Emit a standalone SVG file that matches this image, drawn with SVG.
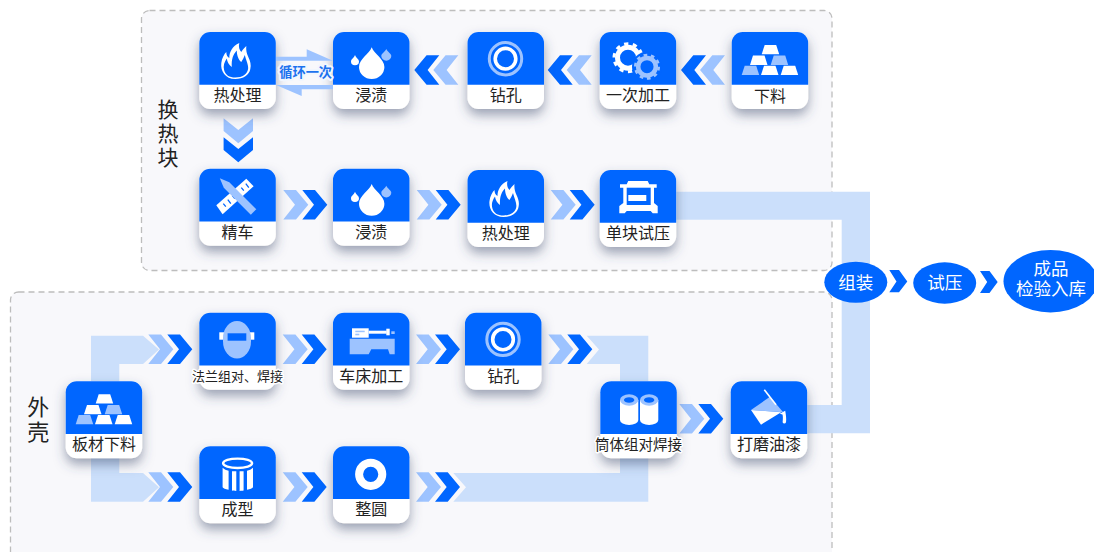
<svg xmlns="http://www.w3.org/2000/svg" width="1094" height="552" viewBox="0 0 1094 552">
<style>
text{font-family:"Noto Sans CJK SC","Noto Sans",sans-serif;text-anchor:middle}
.lb{font-size:16px;fill:#222}
.sm{font-size:13px;fill:#222;stroke:#fff;stroke-width:3px;paint-order:stroke;stroke-linejoin:round}
.md{font-size:14.5px;fill:#222;stroke:#fff;stroke-width:3px;paint-order:stroke;stroke-linejoin:round}
.side{font-size:21px;fill:#222}
.side2{font-size:22px;fill:#222}
.oval{font-size:17.5px;fill:#fff}
.loop{font-size:13.2px;font-weight:700;fill:#1c72ee;stroke:#f1f6fe;stroke-width:4px;paint-order:stroke;stroke-linejoin:round}
.panel{fill:#f8f8fb;stroke:#bdbdbd;stroke-width:1.3;stroke-dasharray:6 4}
.pipe{fill:#cbdffb}
.b{fill:#0066ff}.w{fill:#fff}.l{fill:#9dc3ff}
</style>
<defs>
<filter id="sh" x="-30%" y="-30%" width="160%" height="170%"><feDropShadow dx="0" dy="6" stdDeviation="6" flood-color="#3d4a6b" flood-opacity=".5"/></filter>
<polygon id="cv" points="0,-14.7 12.7,-14.7 25,0 12.7,14.7 0,14.7 11.7,0"/>
<g id="pair"><use href="#cv" class="l"/><use href="#cv" x="19" class="b"/></g>
<g id="card">
<rect width="76.5" height="77" rx="11" class="w" filter="url(#sh)"/>
<path class="b" d="M0,52.7V11A11,11 0 0 1 11,0H65.5A11,11 0 0 1 76.5,11V52.7Z"/>
</g>
<path id="i-flame" class="w" fill-rule="evenodd" d="M36,47C26,47 21,39 22,31C22.500,26 25,22 27,20C27,23 28,25 30,26C30,20 33,14 40,11C39,15 40,18 42,20C43,18 45,16 47,14C46.500,18 47.500,22 49,25C51,29 52,33 51,37C50,43 44,47 36,47ZM36,45.500C43,45.500 48,42 48.800,37C49.300,33 47,29 45.500,23C44.500,26 43,28 42,30C39.500,28 37.500,24 37.500,18.500C34,22 32,27 32.500,35C29.500,33 28,30 27.500,26.500C25,30 23.700,34 24.800,38C26,43 30,45.500 36,45.500Z"/>
<g id="i-drop">
<path class="w" d="M38.700,15.300C41,22 51.400,27 51.400,35A12.700,12 0 0 1 26,35C26,27 36.400,22 38.700,15.300Z"/>
<path class="w" d="M22,23C23,26 26,27 26,29.500A4,3.800 0 0 1 18,29.500C18,27 21,26 22,23Z"/>
<path class="l" d="M53.300,17C54.500,20 58.300,21.500 58.300,24A5,4.700 0 0 1 48.300,24C48.300,21.500 52,20 53.300,17Z"/>
</g>
<g id="i-hole" fill="none">
<circle cx="38" cy="26.700" r="16.200" stroke="#9dc3ff" stroke-width="3"/>
<circle cx="38" cy="26.700" r="10.300" stroke="#fff" stroke-width="3.600"/>
</g>
<g id="i-gears" fill="none">
<circle cx="28.300" cy="25.700" r="10.500" stroke="#fff" stroke-width="5"/>
<circle cx="28.300" cy="25.700" r="14" stroke="#fff" stroke-width="3" stroke-dasharray="4.300 4.500"/>
<circle cx="47.300" cy="34.700" r="15" fill="#0066ff"/>
<circle cx="47.300" cy="34.700" r="8.800" stroke="#9dc3ff" stroke-width="4.500"/>
<circle cx="47.300" cy="34.700" r="11.800" stroke="#9dc3ff" stroke-width="2.500" stroke-dasharray="3.700 3.700"/>
</g>
<polygon id="bar" points="3,0 14.500,0 17.500,9.300 0,9.300"/>
<g id="i-gold">
<use href="#bar" x="30" y="13" class="w"/><use href="#bar" x="18.300" y="23.600" class="w"/><use href="#bar" x="39" y="23.600" class="l"/>
<use href="#bar" x="10" y="33.700" class="l"/><use href="#bar" x="29.300" y="33.700" class="w"/><use href="#bar" x="49" y="33.700" class="w"/>
</g>
<g id="i-tools">
<polygon class="w" points="17,36.600 23.300,45.600 54.300,17.600 47,10"/>
<path d="M24,35l2.500,3M28.500,31l3,4M33,27l2.500,3M37.500,23l3,4M42,19l2.500,3M46.500,15l3,4" stroke="#0066ff" stroke-width="1.300" fill="none"/>
<polygon class="l" points="20.500,9.500 30,13.500 57,40.500 51.500,46 24.500,19"/>
</g>
<g id="i-press">
<polygon class="w" points="27,14.300 28.500,11 48,11 49.600,14.300 57,14.300 57,17.700 54.300,17.700 54.300,33 58,36 58,43.300 53,43.300 51,41 27,41 25,43.300 19.600,43.300 19.600,36 23.600,33 23.600,17.700 20.300,17.700 20.300,14.300"/>
<polygon class="b" points="27,17.700 51,17.700 51,35 27,35"/>
<rect class="w" x="28.600" y="25" width="18" height="6"/>
</g>
<g id="i-mask">
<rect class="w" x="20" y="19.600" width="35" height="7.400"/>
<rect class="l" x="23.700" y="8.300" width="28" height="37.400" rx="14" ry="17"/>
<rect class="b" x="28.300" y="20.600" width="18.700" height="7.400"/>
</g>
<g id="i-lathe">
<polygon class="l" points="16.700,26 61.700,26 61.700,41.600 56.700,41.600 55,36.600 38.300,36.600 35.700,41.600 16.700,41.600"/>
<rect class="w" x="19" y="15.600" width="16.700" height="9.400"/>
<rect class="l" x="22.300" y="18" width="9.400" height="1.500"/><rect class="l" x="22.300" y="21" width="4" height="1.600"/>
<rect class="w" x="35.700" y="18" width="18" height="3"/><rect class="w" x="53.300" y="16" width="3.400" height="6.600"/>
<rect class="l" x="58.300" y="18.600" width="3.400" height="2.700"/>
</g>
<g id="i-drum">
<ellipse cx="38.300" cy="17" rx="14.500" ry="4.700" fill="none" stroke="#fff" stroke-width="2.400"/>
<path class="w" d="M23.300,21.500C25,23 27,24 29.300,24.500V43.500C26,43 24,42 23.300,41ZM32.700,25H37V44.700C35,44.700 34,44.500 32.700,44.300ZM40.300,25H44.300V44.300C43,44.500 42,44.700 40.300,44.700ZM47.700,24.500C50,24 52,23 53.700,21.500V41C53,42 51,43 47.700,43.500Z"/>
</g>
<circle id="i-ring" cx="37.700" cy="28" r="11.600" fill="none" stroke="#fff" stroke-width="8"/>
<g id="cyl">
<path class="w" d="M0,5.700V25.700A9.100,5 0 0 0 18.300,25.700V5.700Z"/>
<ellipse cx="9.150" cy="5.700" rx="9.150" ry="5.700" class="l"/>
<ellipse cx="9.150" cy="5.700" rx="5.200" ry="2.800" class="b"/>
</g>
<g id="i-cyl"><use href="#cyl" x="19.700" y="13"/><use href="#cyl" x="39.700" y="13"/></g>
<g id="i-paint">
<polygon class="l" points="20.300,28.700 39.300,15.400 52.500,31"/>
<polygon class="w" points="20.300,28.700 50.500,31 30.300,43.400"/>
<path d="M33.600,8.400L45.300,23.400" stroke="#fff" stroke-width="1.600"/>
<path class="w" d="M49,32.500L54.500,29.500C55.300,34 55.800,38 55.300,41A1.800,1.800 0 0 1 51.900,41C52.300,38 52.300,35 51.800,33.300Z"/>
</g>
</defs>

<rect id="panel-top" class="panel" x="141.500" y="10.500" width="690.500" height="260" rx="8"/>
<rect id="panel-bottom" class="panel" x="10.500" y="292" width="821.500" height="268" rx="8"/>

<g id="connectors">
<polygon class="pipe" points="660,191.700 870,191.700 870,433.300 790,433.300 790,405 841.700,405 841.700,219.700 660,219.700"/>
<polygon class="pipe" points="143,335.700 159,349.500 143,364 119.300,364 119.300,473 143,473 159,487.300 143,501.700 91,501.700 91,335.700"/>
<polygon class="pipe" points="586.700,335.700 648.300,335.700 648.300,501.700 453.300,501.700 466,487.300 453.300,473 620,473 620,364 586.700,364 599,349.500"/>
<use href="#pair" transform="translate(458.300,70) scale(-1,1)"/>
<use href="#pair" transform="translate(591.700,70) scale(-1,1)"/>
<use href="#pair" transform="translate(725,70) scale(-1,1)"/>
<use href="#pair" transform="translate(238.300,118.300) rotate(90)"/>
<use href="#pair" x="283.300" y="204.700"/>
<use href="#pair" x="416.700" y="204.700"/>
<use href="#pair" x="550.700" y="204.700"/>
<use href="#pair" x="148.300" y="349.300"/>
<use href="#pair" x="282.700" y="349.300"/>
<use href="#pair" x="416" y="349.300"/>
<use href="#pair" x="548.300" y="349.300"/>
<use href="#pair" x="148.300" y="487"/>
<use href="#pair" x="282.700" y="487"/>
<use href="#pair" x="416" y="487"/>
<use href="#pair" x="679.300" y="418.700"/>
<polygon class="b" points="889.300,270 899,270 907.300,281.500 899,292.300 889.300,292.300 896.500,281.500"/>
<polygon class="b" points="980,271 989.500,271 997.700,282 989.500,293 980,293 987.200,282"/>
</g>

<g id="node-heat1" transform="translate(199.300,32)"><use href="#card"/><use href="#i-flame"/><text class="lb" x="38.300" y="69">热处理</text></g>
<g id="node-soak1" transform="translate(333,32)"><use href="#card"/><use href="#i-drop"/><text class="lb" x="38.300" y="69">浸渍</text></g>
<g id="node-drill1" transform="translate(467.500,32)"><use href="#card"/><use href="#i-hole"/><text class="lb" x="38.300" y="69">钻孔</text></g>
<g id="node-mach1" transform="translate(599.700,32)"><use href="#card"/><use href="#i-gears"/><text class="lb" x="38.300" y="69">一次加工</text></g>
<g id="node-cut1" transform="translate(731.700,32)"><use href="#card"/><use href="#i-gold"/><text class="lb" x="38.300" y="70">下料</text></g>

<g id="loop">
<polygon class="l" points="276,56.700 306.700,56.700 306.700,49.300 333,60.700 276,60.700"/>
<polygon class="l" points="333,85 333,89.300 301.700,89.300 301.700,96 276,85"/>
<text class="loop" x="305.700" y="76.500">循环一次</text>
</g>

<g id="node-finish" transform="translate(199.300,168.700)"><use href="#card"/><use href="#i-tools"/><text class="lb" x="38.300" y="69">精车</text></g>
<g id="node-soak2" transform="translate(333,168.700)"><use href="#card"/><use href="#i-drop"/><text class="lb" x="38.300" y="69">浸渍</text></g>
<g id="node-heat2" transform="translate(467.500,170)"><use href="#card"/><use href="#i-flame"/><text class="lb" x="38.300" y="69">热处理</text></g>
<g id="node-test1" transform="translate(599.700,170)"><use href="#card"/><use href="#i-press"/><text class="lb" x="38.300" y="69">单块试压</text></g>

<g id="node-plate" transform="translate(65.700,381.300)"><use href="#card"/><use href="#i-gold"/><text class="lb" x="38.300" y="69">板材下料</text></g>
<g id="node-flange" transform="translate(199.300,312.700)"><use href="#card"/><use href="#i-mask"/><text class="sm" x="38.300" y="68">法兰组对、焊接</text></g>
<g id="node-lathe" transform="translate(333,312.700)"><use href="#card"/><use href="#i-lathe"/><text class="lb" x="38.300" y="69">车床加工</text></g>
<g id="node-drill2" transform="translate(465,312.700)"><use href="#card"/><use href="#i-hole"/><text class="lb" x="38.300" y="69">钻孔</text></g>
<g id="node-form" transform="translate(199.300,446.300)"><use href="#card"/><use href="#i-drum"/><text class="lb" x="38.300" y="69">成型</text></g>
<g id="node-round" transform="translate(333,446.300)"><use href="#card"/><use href="#i-ring"/><text class="lb" x="38.300" y="69">整圆</text></g>
<g id="node-shell" transform="translate(600.300,381.300)"><use href="#card"/><use href="#i-cyl"/><text class="md" x="38.300" y="69">筒体组对焊接</text></g>
<g id="node-paint" transform="translate(730.700,381.300)"><use href="#card"/><use href="#i-paint"/><text class="lb" x="38.300" y="69">打磨油漆</text></g>

<g id="label-top"><text class="side"><tspan x="168" y="116.500">换</tspan><tspan x="168" y="141">热</tspan><tspan x="168" y="164.500">块</tspan></text></g>
<g id="label-bottom"><text class="side2"><tspan x="38.300" y="415">外</tspan><tspan x="38.300" y="440">壳</tspan></text></g>

<g id="node-assemble"><ellipse cx="855.800" cy="282.200" rx="31.500" ry="20.500" class="b"/><text class="oval" x="855.800" y="288.500">组装</text></g>
<g id="node-test2"><ellipse cx="944.700" cy="283" rx="31.500" ry="20.700" class="b"/><text class="oval" x="944.700" y="289.300">试压</text></g>
<g id="node-store"><ellipse cx="1050.500" cy="281.200" rx="47" ry="31.200" class="b"/><text class="oval"><tspan x="1051" y="275">成品</tspan><tspan x="1051" y="294.500">检验入库</tspan></text></g>
</svg>
